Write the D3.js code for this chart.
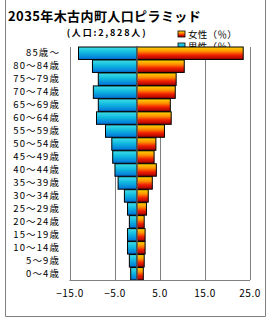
<!DOCTYPE html>
<html>
<head>
<meta charset="utf-8">
<script src="https://cdn.jsdelivr.net/npm/d3@7"></script>
<style>
  body { margin: 0; background: #fff; }
  text { font-family: "Noto Sans CJK JP", "DejaVu Sans", sans-serif; }
</style>
</head>
<body>
<svg id="chart" width="270" height="320"></svg>
<script>
// age groups, bottom to top
const ages = ["0〜4歳", "5〜9歳", "10〜14歳", "15〜19歳", "20〜24歳", "25〜29歳", "30〜34歳", "35〜39歳",
    "40〜44歳", "45〜49歳", "50〜54歳", "55〜59歳", "60〜64歳", "65〜69歳", "70〜74歳", "75〜79歳",
    "80〜84歳", "85歳〜"];
const male = [1.4, 1.7, 2.1, 2.1, 1.7, 2.1, 2.8, 4.2, 4.9, 5.4, 5.6, 7.0, 9.0, 8.6, 9.7, 8.6, 9.9, 13.0];
const female = [1.4, 1.6, 1.8, 1.8, 1.6, 2.1, 2.5, 3.4, 4.3, 3.8, 4.2, 6.1, 7.6, 7.4, 8.5, 8.7, 10.5, 23.6];
const ticks = [-15, -5, 5, 15, 25];

const svg = d3.select("#chart");
const plot = {left: 69.5, right: 249.5, top: 47, bottom: 280};

const x = d3.scaleLinear().domain([-15, 25]).range([plot.left, plot.right]);
const y = d3.scaleBand().domain(ages.slice().reverse()).range([plot.top, plot.bottom]).paddingInner(0.04);

//  gradients for the bars
const defs = svg.append("defs");
const gM = defs.append("linearGradient").attr("id", "gMale").attr("x1", 0).attr("y1", 0).attr("x2", 0).attr("y2", 1);
gM.append("stop").attr("offset", "0%").attr("stop-color", "#3fe0e8");
gM.append("stop").attr("offset", "45%").attr("stop-color", "#10b8e0");
gM.append("stop").attr("offset", "100%").attr("stop-color", "#0070d8");
const gF = defs.append("linearGradient").attr("id", "gFemale").attr("x1", 0).attr("y1", 0).attr("x2", 0).attr("y2", 1);
gF.append("stop").attr("offset", "0%").attr("stop-color", "#ffd800");
gF.append("stop").attr("offset", "35%").attr("stop-color", "#ff9000");
gF.append("stop").attr("offset", "65%").attr("stop-color", "#f02000");
gF.append("stop").attr("offset", "100%").attr("stop-color", "#a00000");

//  outer frame
svg.append("path").attr("d", "M5.5,0 V316.5 H265.5 V0")
    .attr("fill", "none").attr("stroke", "#808080").attr("stroke-width", 1);

//  title
svg.append("text").attr("x", 8).attr("y", 21)
    .attr("font-size", 13).attr("font-weight", "bold").attr("fill", "#000")
    .attr("letter-spacing", 0.4)
    .text("2035年木古内町人口ピラミッド");
svg.append("text").attr("x", 107).attr("y", 35.5).attr("text-anchor", "middle")
    .attr("font-size", 9).attr("font-weight", "bold").attr("fill", "#000")
    .attr("letter-spacing", 1.8)
    .text("(人口:2,828人)");

//  legend (drawn before the bars, the top bar covers part of it)
const legend = [{label: "女性（％）", fill: "url(#gFemale)"}, {label: "男性（％）", fill: "url(#gMale)"}];
const lg = svg.append("g").selectAll("g").data(legend).join("g")
    .attr("transform", (d, i) => `translate(178,${34 + i * 12})`);
lg.append("rect").attr("x", 0).attr("y", -3).attr("width", 7).attr("height", 6)
    .attr("fill", d => d.fill).attr("stroke", "#000").attr("stroke-width", 0.8);
lg.append("text").attr("x", 10).attr("y", 3.5).attr("font-size", 9.5).attr("fill", "#000")
    .attr("letter-spacing", 0.3)
    .text(d => d.label);

//  gridlines
svg.append("g").selectAll("line").data(ticks).join("line")
    .attr("x1", d => Math.round(x(d)) + 0.5).attr("x2", d => Math.round(x(d)) + 0.5)
    .attr("y1", plot.top).attr("y2", plot.bottom)
    .attr("stroke", "#808080").attr("stroke-width", 1);

//  bars
const bars = svg.append("g");
bars.selectAll("rect.m").data(ages).join("rect").attr("class", "m")
    .attr("x", (d, i) => x(-male[i])).attr("y", d => y(d))
    .attr("width", (d, i) => x(0) - x(-male[i])).attr("height", y.bandwidth())
    .attr("fill", "url(#gMale)").attr("stroke", "#000").attr("stroke-width", 1);
bars.selectAll("rect.f").data(ages).join("rect").attr("class", "f")
    .attr("x", x(0)).attr("y", d => y(d))
    .attr("width", (d, i) => x(female[i]) - x(0)).attr("height", y.bandwidth())
    .attr("fill", "url(#gFemale)").attr("stroke", "#000").attr("stroke-width", 1);

//  zero line
svg.append("line").attr("x1", x(0)).attr("x2", x(0)).attr("y1", plot.top).attr("y2", plot.bottom)
    .attr("stroke", "#808080").attr("stroke-width", 1);

//  bottom axis line
svg.append("line").attr("x1", plot.left).attr("x2", plot.right + 0.5)
    .attr("y1", plot.bottom + 0.5).attr("y2", plot.bottom + 0.5)
    .attr("stroke", "#808080").attr("stroke-width", 1);

//  category labels
const yAxis = svg.append("g").attr("transform", `translate(60,0)`)
    .call(d3.axisLeft(y).tickSize(0).tickPadding(0));
yAxis.select(".domain").remove();
yAxis.selectAll("text").attr("font-size", 9.5).attr("fill", "#000")
    .attr("font-family", "\"Noto Sans CJK JP\", sans-serif").attr("letter-spacing", 1.1);

//  value labels
const xAxis = svg.append("g").attr("transform", `translate(0,${plot.bottom})`)
    .call(d3.axisBottom(x).tickValues(ticks).tickFormat(d => d3.format(".1f")(d).replace("-", "−"))
        .tickSize(0).tickPadding(10));
xAxis.select(".domain").remove();
xAxis.selectAll("text").attr("font-size", 10).attr("fill", "#000")
    .attr("font-family", "\"Noto Sans CJK JP\", sans-serif").attr("letter-spacing", 0.5);
</script>
</body>
</html>
